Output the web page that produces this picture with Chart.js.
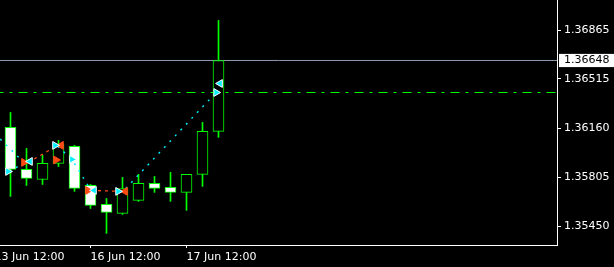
<!DOCTYPE html>
<html lang="en">
<head>
<meta charset="UTF-8">
<title>H4 chart</title>
<script src="https://cdn.jsdelivr.net/npm/chart.js"></script>
<style>
  html, body { margin: 0; padding: 0; background: #000; }
  .wrap { position: relative; width: 614px; height: 267px; }
</style>
</head>
<body>
<div class="wrap"><canvas id="chart"></canvas></div>
<script>
// H4 bars, index 0 = first bar fully in view
const candleIdx = [0, 1, 2, 3, 4, 5, 6, 7, 8, 9, 10, 11, 12, 13];
const opens  = [1.36165, 1.35862, 1.35789, 1.35905, 1.36028, 1.35746, 1.35609, 1.35544, 1.35638, 1.35761, 1.35732, 1.35696, 1.35826, 1.36136];
const highs  = [1.36273, 1.36013, 1.35963, 1.36071, 1.36035, 1.35753, 1.35652, 1.35804, 1.35826, 1.35811, 1.35840, 1.35826, 1.36201, 1.36937];
const lows   = [1.35667, 1.35746, 1.35753, 1.35883, 1.35703, 1.35580, 1.35400, 1.35537, 1.35631, 1.35696, 1.35631, 1.35566, 1.35739, 1.36093];
const closes = [1.35862, 1.35797, 1.35905, 1.36042, 1.35724, 1.35602, 1.35551, 1.35724, 1.35761, 1.35724, 1.35696, 1.35826, 1.36136, 1.36648];

// price axis
const priceTicks = [1.35450, 1.35805, 1.36160, 1.36515, 1.36648, 1.36865];
const currentPrice = 1.36648;
const levelPrice = 1.36417;

// time axis
const timeTickIdx = [-1, 5, 11];
const timeLabels = ['13 Jun 12:00', '16 Jun 12:00', '17 Jun 12:00'];

// indicator lines (null = break)
const cyanLineX = [-1.00, 0.70, 0.70, -0.10, 0.70, 0.70, 2.95, 3.84, 5.00, 5.00, 7.20, 12.85];
const cyanLineY = [1.36122, 1.35927, null, 1.35847, 1.35898, null, 1.36028, 1.35934, 1.35717, null, 1.35724, 1.36417];
const redLineX = [1.10, 2.95, 2.95, 5.03, 6.90];
const redLineY = [1.35912, 1.36035, null, 1.35710, 1.35703];

// arrow markers
const cyanRightX = [-0.16, 2.78, 3.84, 6.72, 12.85];
const cyanRightY = [1.35847, 1.36035, 1.35934, 1.35703, 1.36417];
const cyanLeftX = [1.22, 5.22, 13.10];
const cyanLeftY = [1.35919, 1.35710, 1.36482];
const redRightX = [0.84, 2.84, 4.84];
const redRightY = [1.35912, 1.35930, 1.35710];
const redLeftX = [3.16, 7.16];
const redLeftY = [1.36035, 1.35703];

const xMin = -0.65625, xMax = 34.15625;
const yMin = 1.353160, yMax = 1.370847;

const GREEN = '#00ff00';
const CYAN = '#00f0ff';
const RED = '#ff4a14';
const FONT = { family: 'DejaVu Sans', size: 11 };

const pts = (xs, ys) => xs.map((x, i) => ({ x: x, y: ys[i] }));

const bodies = candleIdx.map((x, i) => ({ x: x, y: [opens[i], closes[i]] }));
const wicks = candleIdx.map((x, i) => ({ x: x, y: [lows[i], highs[i]] }));
const bodyFill = candleIdx.map((x, i) => closes[i] < opens[i] ? '#ffffff' : '#000000');

function markerSet(xs, ys, color, edge, rot, order) {
    return {
        type: 'line', data: pts(xs, ys), showLine: false, order: order,
        pointStyle: 'triangle', pointRotation: rot, pointRadius: 4.5,
        pointBackgroundColor: color, pointBorderColor: edge, pointBorderWidth: 1
    };
}

new Chart(document.getElementById('chart'), {
    type: 'bar',
    data: {
        datasets: [
            { type: 'line', data: pts([-1, 40], [currentPrice, currentPrice]), borderColor: '#8c9ab0', borderWidth: 1, pointRadius: 0, order: 10 },
            { type: 'line', data: pts([-1, 40], [levelPrice, levelPrice]), borderColor: GREEN, borderWidth: 1, borderDash: [9, 6, 3, 6], pointRadius: 0, order: 9 },
            { data: wicks, backgroundColor: GREEN, borderWidth: 0, barThickness: 1, grouped: false, order: 8 },
            { data: bodies, backgroundColor: bodyFill, borderColor: GREEN, borderWidth: 1, borderSkipped: false, barThickness: 11, grouped: false, order: 7 },
            { type: 'line', data: pts(redLineX, redLineY), borderColor: RED, borderWidth: 1.3, borderDash: [3, 4], pointRadius: 0, order: 4 },
            { type: 'line', data: pts(cyanLineX, cyanLineY), borderColor: CYAN, borderWidth: 1.4, borderDash: [2, 6], pointRadius: 0, order: 3 },
            markerSet(redRightX, redRightY, RED, RED, 90, 2),
            markerSet(redLeftX, redLeftY, RED, RED, -90, 2),
            markerSet(cyanRightX, cyanRightY, CYAN, '#ffffff', 90, 1),
            markerSet(cyanLeftX, cyanLeftY, CYAN, '#ffffff', -90, 1)
        ]
    },
    options: {
        responsive: true,
        maintainAspectRatio: false,
        animation: false,
        events: [],
        layout: { padding: 0, autoPadding: false },
        plugins: { legend: { display: false }, tooltip: { enabled: false } },
        scales: {
            x: {
                type: 'linear', min: xMin, max: xMax, offset: false,
                grid: { offset: false, drawOnChartArea: false, color: '#ffffff', tickLength: 3 },
                border: { color: '#ffffff', width: 1 },
                ticks: {
                    align: 'start', autoSkip: false, maxRotation: 0, padding: 3,
                    color: '#ffffff', font: FONT,
                    callback: v => timeLabels[timeTickIdx.indexOf(v)]
                },
                afterBuildTicks: s => { s.ticks = timeTickIdx.map(v => ({ value: v })); },
                afterFit: s => { s.height = 22; s.paddingLeft = 0; s.paddingRight = 0; }
            },
            y: {
                type: 'linear', position: 'right', min: yMin, max: yMax, beginAtZero: false,
                grid: {
                    drawOnChartArea: false, color: '#ffffff', tickLength: 4,
                    tickColor: c => (c.tick && c.tick.value === currentPrice) ? 'rgba(0,0,0,0)' : '#ffffff'
                },
                border: { color: '#ffffff', width: 1 },
                ticks: {
                    padding: 3, font: FONT,
                    color: c => (c.tick && c.tick.value === currentPrice) ? '#000000' : '#ffffff',
                    showLabelBackdrop: c => !!(c.tick && c.tick.value === currentPrice),
                    backdropColor: '#ffffff',
                    backdropPadding: { left: 5, right: 10, top: 0, bottom: 0 },
                    callback: v => v.toFixed(5)
                },
                afterBuildTicks: s => { s.ticks = priceTicks.map(v => ({ value: v })); },
                afterFit: s => { s.width = 57; s.paddingTop = 0; s.paddingBottom = 0; }
            }
        }
    }
});
</script>
</body>
</html>
